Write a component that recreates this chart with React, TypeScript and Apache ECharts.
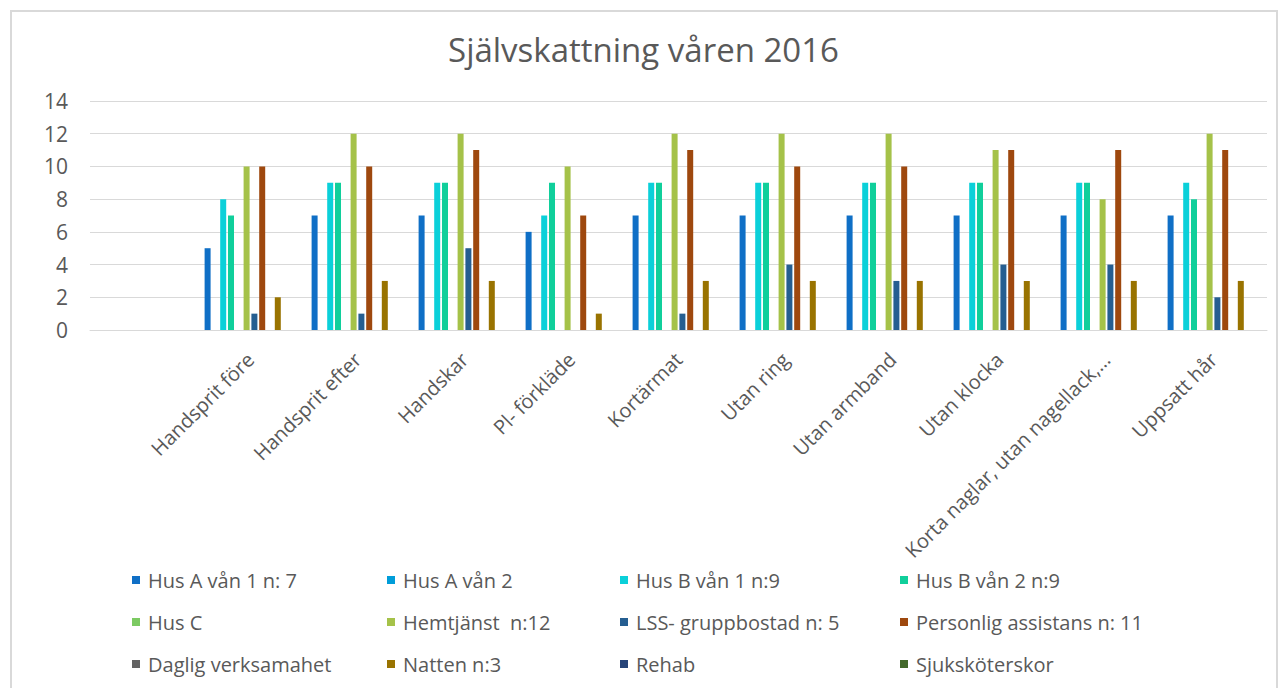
import React, { useEffect, useRef } from "react";
import * as echarts from "echarts";

const categories = ["", "Handsprit före", "Handsprit efter", "Handskar", "Pl- förkläde", "Kortärmat", "Utan ring", "Utan armband", "Utan klocka", "Korta naglar, utan nagellack,…", "Uppsatt hår"];

const seriesNames = [
  "Hus A vån 1 n: 7",
  "Hus A vån 2",
  "Hus B vån 1 n:9",
  "Hus B vån 2 n:9",
  "Hus C",
  "Hemtjänst  n:12",
  "LSS- gruppbostad n: 5",
  "Personlig assistans n: 11",
  "Daglig verksamahet",
  "Natten n:3",
  "Rehab",
  "Sjuksköterskor",
];

const N = null;
const husA1 = [N, 5, 7, 7, 6, 7, 7, 7, 7, 7, 7];
const husA2 = [N, N, N, N, N, N, N, N, N, N, N];
const husB1 = [N, 8, 9, 9, 7, 9, 9, 9, 9, 9, 9];
const husB2 = [N, 7, 9, 9, 9, 9, 9, 9, 9, 9, 8];
const husC = [N, N, N, N, N, N, N, N, N, N, N];
const hemtjanst = [N, 10, 12, 12, 10, 12, 12, 12, 11, 8, 12];
const lss = [N, 1, 1, 5, N, 1, 4, 3, 4, 4, 2];
const personlig = [N, 10, 10, 11, 7, 11, 10, 10, 11, 11, 11];
const daglig = [N, N, N, N, N, N, N, N, N, N, N];
const natten = [N, 2, 3, 3, 1, 3, 3, 3, 3, 3, 3];
const rehab = [N, N, N, N, N, N, N, N, N, N, N];
const sjuk = [N, N, N, N, N, N, N, N, N, N, N];

const seriesData = [husA1, husA2, husB1, husB2, husC, hemtjanst, lss, personlig, daglig, natten, rehab, sjuk];

const colors = [
  "#0f6fc6", "#009dd9", "#0bd0d9", "#10cf9b", "#7cca62", "#a5c249",
  "#255e91", "#9e480e", "#636363", "#997300", "#264478", "#43682b",
];

const yTicks = { min: 0, max: 14, interval: 2 };

const FONT = "'Open Sans', 'Noto Sans', sans-serif";
const TXT = "#595959";

export default function App() {
  const ref = useRef<HTMLDivElement>(null);
  useEffect(() => {
    if (!ref.current) return;
    const chart = echarts.init(ref.current, undefined, { renderer: "svg" });
    const colLeft = [127, 382, 615, 895];
    const legends = colLeft.map((x, c) => ({
      orient: "vertical",
      left: x,
      top: 565,
      itemWidth: 8,
      itemHeight: 8,
      itemGap: 22,
      icon: "rect",
      selectedMode: false,
      data: [0, 1, 2].map((r) => seriesNames[r * 4 + c]),
      textStyle: { color: TXT, fontSize: 20, fontFamily: FONT, lineHeight: 20, padding: [0, 0, 0, 3] },
    }));
    chart.setOption({
      animation: false,
      backgroundColor: "#ffffff",
      color: colors,
      title: {
        text: "Självskattning våren 2016",
        left: "center",
        top: 28,
        textStyle: { color: TXT, fontSize: 33, fontWeight: "normal", fontFamily: FONT },
      },
      graphic: [
        {
          type: "rect",
          shape: { x: 11, y: 11, width: 1266, height: 690 },
          style: { fill: "none", stroke: "#d9d9d9", lineWidth: 2 },
          silent: true,
        },
      ],
      legend: legends,
      grid: { left: 90, right: 20, top: 101, bottom: 358, containLabel: false },
      xAxis: {
        type: "category",
        data: categories,
        axisLine: { show: true, lineStyle: { color: "#d9d9d9", width: 1 } },
        axisTick: { show: false },
        axisLabel: { interval: 0, rotate: 45, color: TXT, fontSize: 20, fontFamily: FONT, margin: 26 },
      },
      yAxis: {
        type: "value",
        min: yTicks.min,
        max: yTicks.max,
        interval: yTicks.interval,
        axisLine: { show: false },
        axisTick: { show: false },
        splitLine: { lineStyle: { color: "#d9d9d9", width: 1 } },
        axisLabel: { color: TXT, fontSize: 21, fontFamily: FONT, margin: 22 },
      },
      series: seriesNames.map((name, i) => ({
        name,
        type: "bar",
        data: seriesData[i],
        barWidth: 6,
        barGap: "30%",
        itemStyle: { color: colors[i] },
      })),
    });
    return () => chart.dispose();
  }, []);
  return <div ref={ref} style={{ position: "absolute", left: 0, top: 0, width: 1287, height: 688 }} />;
}
